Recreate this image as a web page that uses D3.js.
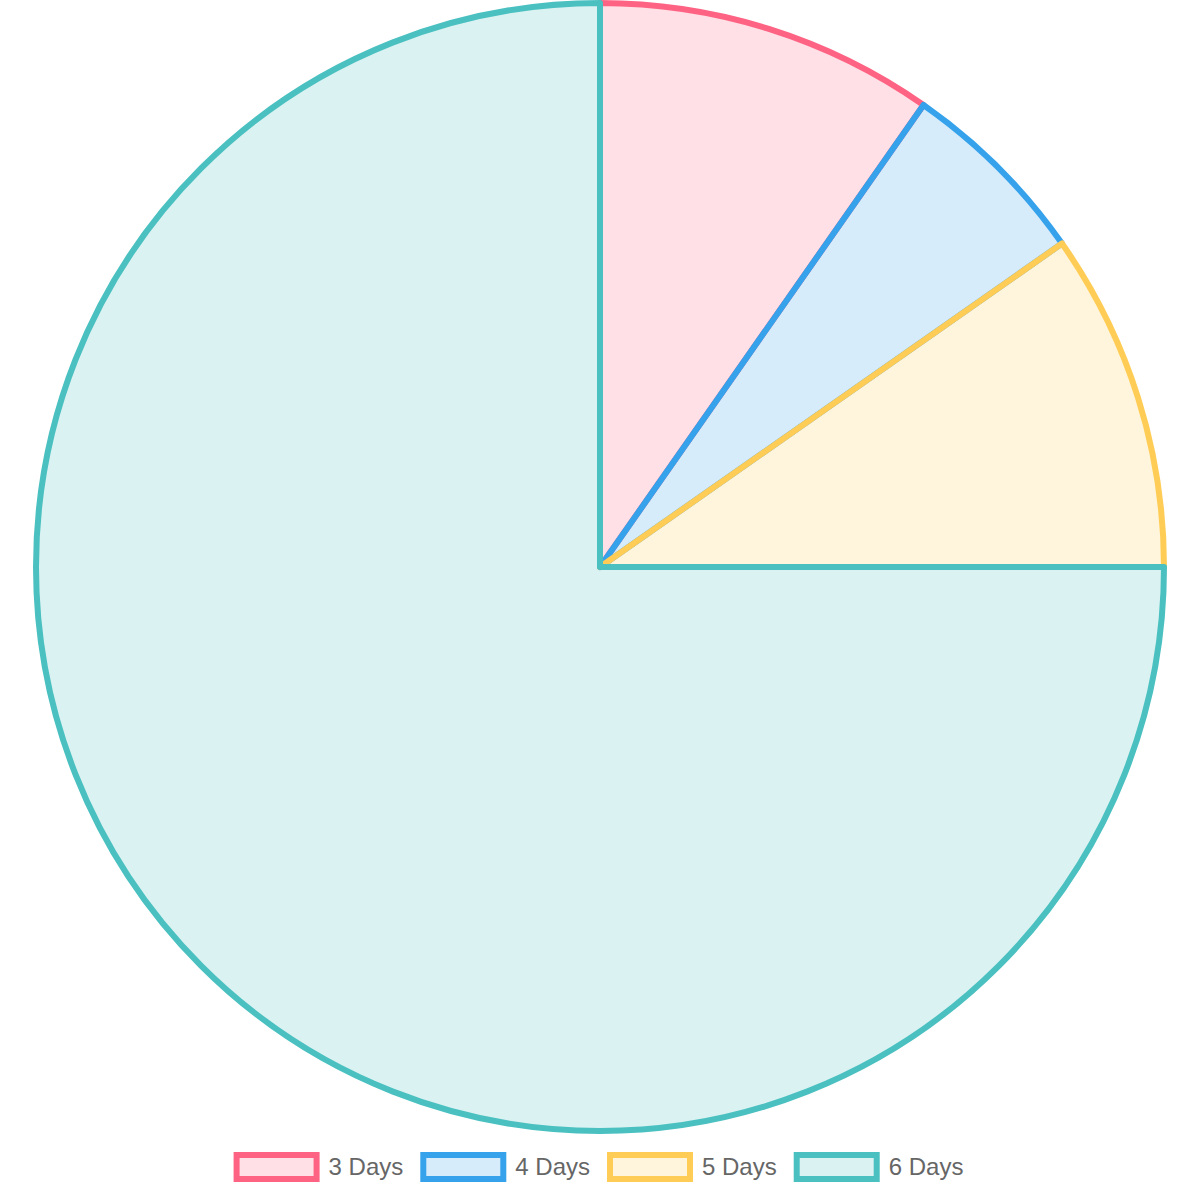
<!DOCTYPE html>
<html>
<head>
<meta charset="utf-8">
<script src="https://cdn.jsdelivr.net/npm/d3@7"></script>
<style>
  html, body { margin: 0; padding: 0; background: #fff; }
  svg { display: block; }
</style>
</head>
<body>
<svg id="chart" width="1200" height="1200"></svg>
<script>
var labels = ["3 Days", "4 Days", "5 Days", "6 Days"]
var values = [7, 4, 7, 54]
var borderColors = ["rgb(255,99,132)", "rgb(54,162,235)", "rgb(255,205,86)", "rgb(75,192,192)"]
var fillColors = ["rgba(255,99,132,0.2)", "rgba(54,162,235,0.2)", "rgba(255,205,86,0.2)", "rgba(75,192,192,0.2)"]

var width = 1200
var cx = 600, cy = 567, radius = 564
var borderW = 6
var font = "'Helvetica Neue', Helvetica, Arial, 'Liberation Sans', sans-serif"

var svg = d3.select("#chart")

var pie = d3.pie().sort(null).value(function(d){ return d })
var arc = d3.arc().innerRadius(0).outerRadius(radius)

var g = svg.append("g").attr("transform", "translate(" + cx + "," + cy + ")")
g.selectAll("path")
  .data(pie(values))
  .enter().append("path")
  .attr("d", arc)
  .attr("fill", function(d, i){ return fillColors[i] })
  .attr("stroke", function(d, i){ return borderColors[i] })
  .attr("stroke-width", borderW)
  .attr("stroke-linejoin", "round")

// legend, laid out like chart.js (box 80x24, padding 20)
var boxW = 80, boxH = 24, fontSize = 24, pad = 20
var legendY = 1167
var legend = svg.append("g")
var items = legend.selectAll("g").data(labels).enter().append("g")
items.append("rect")
  .attr("width", boxW).attr("height", boxH)
  .attr("y", legendY - boxH / 2)
  .attr("fill", function(d, i){ return fillColors[i] })
  .attr("stroke", function(d, i){ return borderColors[i] })
  .attr("stroke-width", borderW)
items.append("text")
  .text(function(d){ return d })
  .attr("x", boxW + fontSize / 2)
  .attr("y", legendY)
  .attr("dy", "0.35em")
  .attr("font-family", font)
  .attr("font-size", fontSize)
  .attr("fill", "#666")

var widths = []
items.select("text").each(function(){ widths.push(boxW + fontSize / 2 + this.getComputedTextLength()) })
var total = d3.sum(widths) + pad * (widths.length - 1)
var x0 = (width - total) / 2
items.attr("transform", function(d, i){
  var x = x0 + d3.sum(widths.slice(0, i)) + pad * i
  return "translate(" + x + ",0)"
})
</script>
</body>
</html>
